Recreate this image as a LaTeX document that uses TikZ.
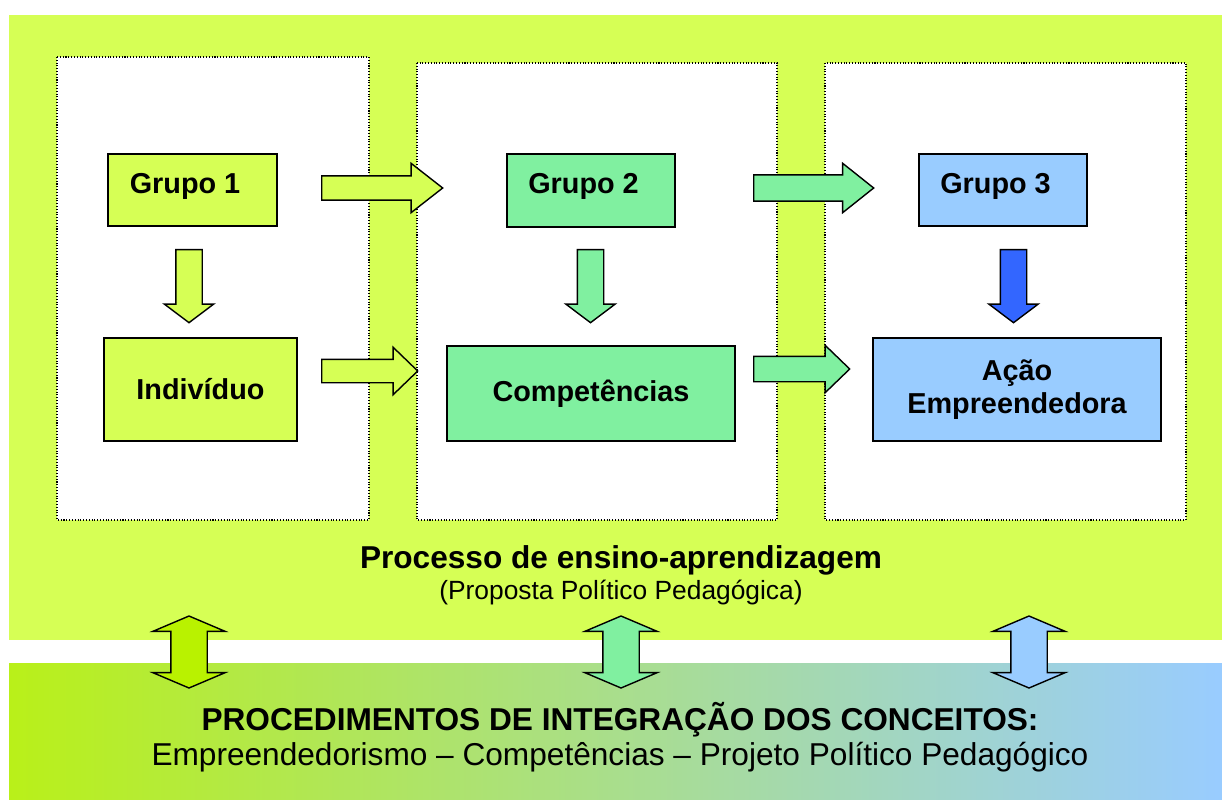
\documentclass[tikz,border=0pt]{standalone}
\usepackage{fontspec}
\setmainfont{Liberation Sans}
\usepackage{tikz}
\usetikzlibrary{shapes.arrows}
\definecolor{limecolor}{RGB}{214, 255, 85}
\definecolor{greencolor}{RGB}{128, 240, 160}
\definecolor{bluecolor}{RGB}{153, 204, 255}
\definecolor{darkbluecolor}{RGB}{51, 102, 255}
\definecolor{brightlime}{RGB}{185, 242, 0}
\definecolor{bandleft}{RGB}{185, 240, 25}
\definecolor{bandmid}{RGB}{170, 230, 165}
\definecolor{bandright}{RGB}{153, 204, 255}

\begin{document}
\begin{tikzpicture}[
    x=0.02cm, y=-0.02cm,
    panel/.style={draw, densely dotted, fill=white, line width=0.6pt},
    box/.style={rectangle, draw, line width=1pt, font=\fontsize{16.4}{19}\selectfont\bfseries},
    grupo/.style={box, minimum width=3.37cm, minimum height=1.45cm, text depth=8pt, execute at end node=\hspace*{8.5pt}},
    bigbox/.style={box, minimum width=5.76cm, align=center},
    rarrow/.style={single arrow, draw, line width=0.8pt, inner xsep=0pt, inner ysep=0.23cm, single arrow head extend=0.25cm, anchor=tail},
    darrow/.style={rarrow, rotate=-90, minimum height=1.46cm, inner ysep=0.25cm, single arrow head extend=0.23cm, single arrow tip angle=106},
    dblarrow/.style={double arrow, draw, line width=0.8pt, inner xsep=0pt, inner ysep=0.35cm, rotate=90, minimum height=1.44cm, double arrow head extend=0.36cm, double arrow tip angle=134},
    title/.style={font=\fontsize{18}{21}\selectfont\bfseries},
]

\useasboundingbox (0,0) rectangle (1222,800);

% Background areas
\fill[limecolor] (9,15) rectangle (1222,640);
\shade[left color=bandleft, middle color=bandmid, right color=bandright] (9,663) rectangle (1222,800);

% Dotted panels
\draw[panel] (57,57) rectangle (369,520);
\draw[panel] (417,63) rectangle (777,520);
\draw[panel] (825,63) rectangle (1186,520);

% Groups
\node[grupo, fill=limecolor] (g1) at (192.5,190) {Grupo 1};
\node[grupo, fill=greencolor] (g2) at (591,190.5) {Grupo 2};
\node[grupo, fill=bluecolor] (g3) at (1003,190) {Grupo 3};

% Second row
\node[box, fill=limecolor, minimum width=3.86cm, minimum height=2.06cm] (indiv) at (200.5,389.5) {Indivíduo};
\node[bigbox, fill=greencolor, minimum height=1.9cm] (comp) at (591,393.5) {Competências};
\node[bigbox, fill=bluecolor, minimum height=2.06cm] (acao) at (1017,389.5) {Ação\\Empreendedora};

% Block arrows
\node[rarrow, fill=limecolor, minimum height=2.42cm, single arrow tip angle=76] (a12) at (321,188) {};
\node[rarrow, fill=limecolor, minimum height=1.92cm, inner ysep=0.22cm, single arrow head extend=0.24cm, single arrow tip angle=88] (aic) at (321,371) {};
\node[rarrow, fill=greencolor, minimum height=2.4cm, inner ysep=0.25cm, single arrow head extend=0.23cm, single arrow tip angle=77] (a23) at (753,188) {};
\node[rarrow, fill=greencolor, minimum height=1.92cm, inner ysep=0.24cm, single arrow head extend=0.22cm, single arrow tip angle=88] (aca) at (753,369) {};

\node[darrow, fill=limecolor] (d1) at (189,249) {};
\node[darrow, fill=greencolor] (d2) at (590.5,249) {};
\node[darrow, fill=darkbluecolor] (d3) at (1013.5,249) {};

% Process text
\node[title] (processo) at (621,560) {Processo de ensino-aprendizagem};
\node[font=\fontsize{15}{18}\selectfont] (proposta) at (621,593) {(Proposta Político Pedagógica)};

% Double arrows
\node[dblarrow, fill=brightlime] (dbl1) at (189,652) {};
\node[dblarrow, fill=greencolor] (dbl2) at (621,652) {};
\node[dblarrow, fill=bluecolor] (dbl3) at (1029,652) {};

% Integration text
\node[title] (procedimentos) at (620,720) {PROCEDIMENTOS DE INTEGRAÇÃO DOS CONCEITOS:};
\node[font=\fontsize{18}{21}\selectfont] (conceitos) at (620,757) {Empreendedorismo -- Competências -- Projeto Político Pedagógico};

\end{tikzpicture}
\end{document}
